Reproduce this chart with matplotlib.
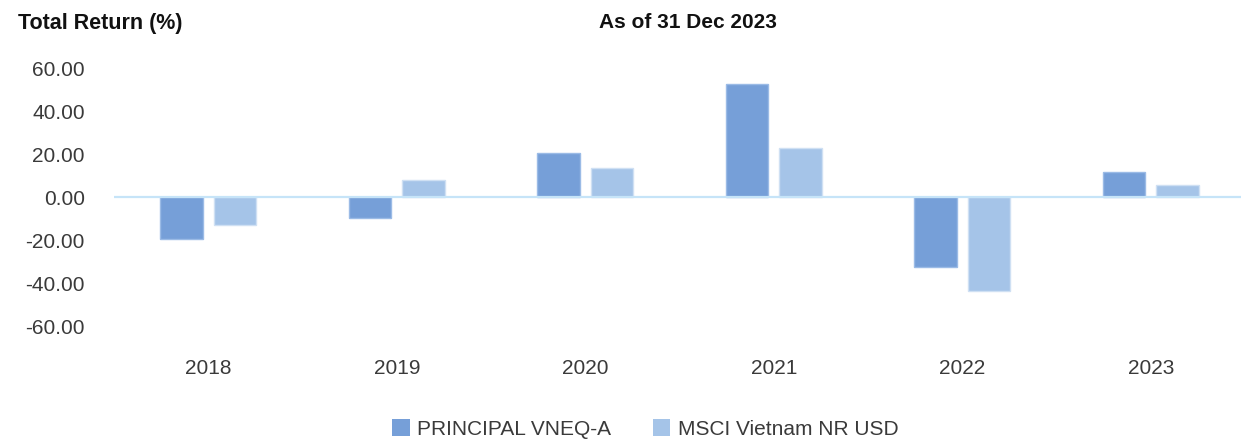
import matplotlib
matplotlib.use('Agg')
import matplotlib.pyplot as plt
import numpy as np
from matplotlib.patches import Patch

years = ['2018', '2019', '2020', '2021', '2022', '2023']
principal = [-19.0, -9.7, 20.6, 52.8, -32.0, 11.7]
msci = [-12.9, 8.0, 13.7, 23.0, -43.3, 5.8]
series_names = ['PRINCIPAL VNEQ-A', 'MSCI Vietnam NR USD']
yticks = [-60, -40, -20, 0, 20, 40, 60]

plt.rcParams['font.family'] = ['Liberation Sans', 'DejaVu Sans']

W, H = 1241, 440
fig = plt.figure(figsize=(W / 100, H / 100), dpi=100)

# axes placed in pixel terms: 60 at y=68, -60 at y=327, left edge at x=114
ax = fig.add_axes([114 / W, (H - 327) / H, 1 - 114 / W, (327 - 68) / H])

c_p = '#769FD8'
c_m = '#A5C4E8'
x = np.arange(len(years))
w = 0.225
off = 0.143
ax.bar(x - off, principal, w, color=c_p, edgecolor='#9BBBE6', linewidth=1, zorder=2)
ax.bar(x + off, msci, w, color=c_m, edgecolor='#CFE0F3', linewidth=1, zorder=2)

ax.axhline(0, color='#C6E4F8', linewidth=1.6, zorder=3)

ax.set_xlim(-0.5, -0.5 + (W - 114) / 188.5)
ax.set_ylim(-60, 60)
ax.set_yticks(yticks)
ax.set_yticklabels(['%.2f' % v for v in yticks])
ax.set_xticks(x)
ax.set_xticklabels(years)
ax.tick_params(axis='y', length=0, pad=21, labelsize=15, labelcolor='#3a3a3a')
ax.tick_params(axis='x', length=0, pad=23, labelsize=15, labelcolor='#3a3a3a')
for s in ax.spines.values():
    s.set_visible(False)
ax.patch.set_alpha(0)

fig.text(18 / W, 1 - 23 / H, 'Total Return (%)', fontsize=15.5, fontweight='bold',
         ha='left', va='center', color='#111111')
fig.text(688 / W, 1 - 23 / H, 'As of 31 Dec 2023', fontsize=15, fontweight='bold',
         ha='center', va='center', color='#111111')

handles = [Patch(facecolor=c_p, edgecolor='none'), Patch(facecolor=c_m, edgecolor='none')]
fig.legend(handles, series_names, loc='center', bbox_to_anchor=(645 / W, 1 - 429 / H),
           ncol=2, frameon=False, fontsize=15, handlelength=0.85, handleheight=0.85,
           handletextpad=0.35, columnspacing=2.0, labelcolor='#3a3a3a')

fig.savefig('out.png', dpi=100)
